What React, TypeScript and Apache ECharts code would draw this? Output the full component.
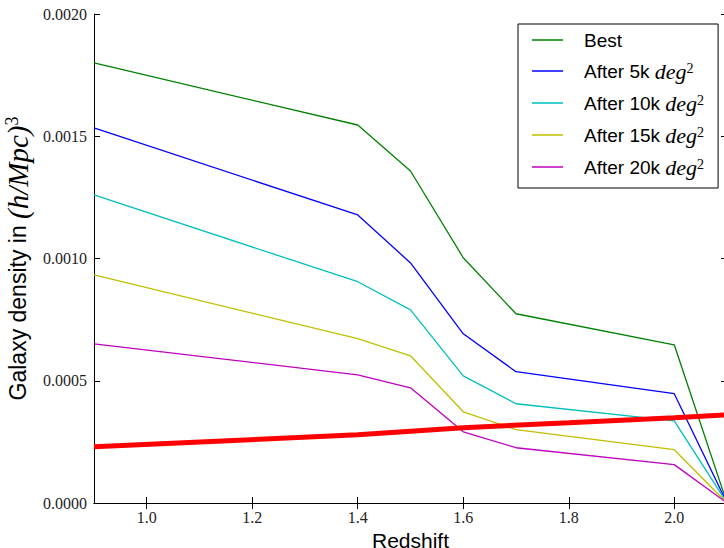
import React, { useEffect, useRef } from "react";
import * as echarts from "echarts";

const redshift = [0.9, 1.4, 1.5, 1.6, 1.7, 2.0, 2.1];
const best = [0.00180, 0.001546, 0.001358, 0.001003, 0.000774, 0.000647, 0.0];
const after5k = [0.001534, 0.001178, 0.000982, 0.000692, 0.000537, 0.000447, 0.0];
const after10k = [0.00126, 0.000905, 0.00079, 0.00052, 0.000406, 0.000336, 0.0];
const after15k = [0.000933, 0.000672, 0.000602, 0.000373, 0.0003, 0.000218, 0.0];
const after20k = [0.000651, 0.000524, 0.000471, 0.000291, 0.000226, 0.000157, 0.0];

const limitX = [0.9, 1.4, 1.6, 1.8, 2.0, 2.1];
const limitY = [0.00023, 0.000279, 0.000308, 0.000328, 0.000349, 0.000361];

const xTicks = [1.0, 1.2, 1.4, 1.6, 1.8, 2.0];
const seriesNames = ["Best", "After 5k", "After 10k", "After 15k", "After 20k"];
const seriesColors = ["#008000", "#0000ff", "#00bfbf", "#bfbf00", "#bf00bf"];
const seriesData = [best, after5k, after10k, after15k, after20k];

const SERIF = "'Liberation Serif', 'DejaVu Serif', serif";
const SANS = "'Liberation Sans', Arial, sans-serif";

export default function App() {
  const ref = useRef<HTMLDivElement>(null);
  useEffect(() => {
    if (!ref.current) return;
    const chart = echarts.init(ref.current, undefined, { renderer: "svg", width: 724, height: 548 });
    const tickCommon = {
      axisLine: { show: true, lineStyle: { color: "#000", width: 1 } },
      splitLine: { show: false },
    };
    const option: any = {
      animation: false,
      backgroundColor: "#fff",
      grid: { left: 94, top: 14, width: 633, height: 489, containLabel: false, outerBoundsMode: "none" },
      xAxis: [
        {
          type: "value",
          min: 0.9,
          max: 2.1,
          position: "bottom",
          ...tickCommon,
          axisTick: { show: true, inside: true, length: 6, customValues: xTicks, lineStyle: { color: "#000" } },
          axisLabel: {
            customValues: xTicks,
            formatter: (v: number) => v.toFixed(1),
            fontFamily: SERIF,
            fontSize: 16,
            color: "#222",
            margin: 6,
          },
          name: "Redshift",
          nameLocation: "middle",
          nameGap: 19,
          nameTextStyle: { fontFamily: SANS, fontSize: 21, lineHeight: 22, color: "#000" },
        },
        {
          type: "value",
          min: 0.9,
          max: 2.1,
          position: "top",
          ...tickCommon,
          axisTick: { show: true, inside: true, length: 6, customValues: xTicks, lineStyle: { color: "#000" } },
          axisLabel: { show: false, customValues: xTicks },
        },
      ],
      yAxis: [
        {
          type: "value",
          min: 0,
          max: 0.002,
          interval: 0.0005,
          position: "left",
          ...tickCommon,
          axisTick: { show: true, inside: true, length: 6, lineStyle: { color: "#000" } },
          axisLabel: {
            formatter: (v: number) => v.toFixed(4),
            fontFamily: SERIF,
            fontSize: 16,
            color: "#222",
            margin: 7,
          },
          name: "Galaxy density in {m|(h/Mpc)}{s|3}",
          nameLocation: "middle",
          nameRotate: 90,
          nameGap: 54,
          nameTextStyle: {
            fontFamily: SANS,
            fontSize: 23,
            color: "#000",
            rich: {
              m: { fontFamily: SERIF, fontStyle: "italic", fontSize: 29, color: "#000" },
              s: { fontFamily: SERIF, fontSize: 18, color: "#000", verticalAlign: "top" },
            },
          },
        },
        {
          type: "value",
          min: 0,
          max: 0.002,
          interval: 0.0005,
          position: "right",
          ...tickCommon,
          axisTick: { show: true, inside: true, length: 6, lineStyle: { color: "#000" } },
          axisLabel: { show: false },
        },
      ],
      legend: {
        data: seriesNames,
        orient: "vertical",
        left: 518,
        top: 24,
        icon: "rect",
        itemWidth: 31,
        itemHeight: 1.5,
        itemGap: 10,
        padding: [6, 14, 10, 14],
        borderColor: "#000",
        borderWidth: 1,
        borderRadius: 0,
        backgroundColor: "#fff",
        formatter: (name: string) => (name === "Best" ? name : `${name} {m|deg}{s|2}`),
        textStyle: {
          fontFamily: SANS,
          fontSize: 19,
          color: "#000",
          lineHeight: 20,
          padding: [0, 0, 0, 16],
          rich: {
            m: { fontFamily: SERIF, fontStyle: "italic", fontSize: 22, color: "#000", lineHeight: 20 },
            s: { fontFamily: SERIF, fontSize: 14, color: "#000", verticalAlign: "top", lineHeight: 20 },
          },
        },
      },
      series: [
        ...seriesNames.map((name, i) => ({
          name,
          type: "line",
          xAxisIndex: 0,
          yAxisIndex: 0,
          symbol: "none",
          lineStyle: { color: seriesColors[i], width: 1.3 },
          itemStyle: { color: seriesColors[i] },
          data: redshift.map((x, j) => [x, seriesData[i][j]]),
          z: 3,
        })),
        {
          name: "Limit",
          type: "line",
          symbol: "none",
          lineStyle: { color: "#ff0000", width: 5 },
          itemStyle: { color: "#ff0000" },
          data: limitX.map((x, j) => [x, limitY[j]]),
          z: 4,
        },
      ],
    };
    chart.setOption(option);
    return () => chart.dispose();
  }, []);
  return (
    <div
      ref={ref}
      style={{ position: "fixed", left: 0, top: 0, width: 724, height: 548, background: "#fff" }}
    />
  );
}
